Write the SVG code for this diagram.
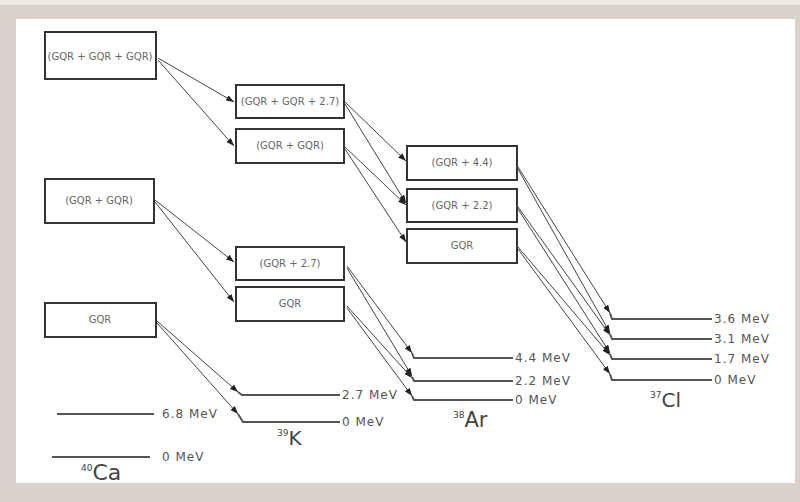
<svg xmlns="http://www.w3.org/2000/svg" width="800" height="502" viewBox="0 0 800 502">
<defs>
<marker id="ah" markerUnits="userSpaceOnUse" markerWidth="9" markerHeight="7" refX="8" refY="3" orient="auto"><path d="M0,0 L8,3 L0,6 z" fill="#222"/></marker>
<style>
.box{fill:#fff;stroke:#333;stroke-width:2}
.bt{font-family:"DejaVu Sans",sans-serif;font-size:10px;fill:#666;text-anchor:middle}
.con line{stroke:#444;stroke-width:1;marker-end:url(#ah)}
.lvl{fill:none;stroke:#555;stroke-width:2}
.lt{font-family:"DejaVu Sans",sans-serif;font-size:12px;fill:#555;letter-spacing:1px}
.iso{font-family:"DejaVu Sans",sans-serif;font-size:20px;fill:#444}
.sup{font-size:9px}
</style>
</defs>
<rect x="0" y="0" width="800" height="502" fill="#d8d2cb"/>
<rect x="0" y="0" width="800" height="5" fill="#eeebe7"/>
<rect x="16" y="19" width="779" height="464" fill="#fff"/>

<g id="ca-gqr3"><rect class="box" x="45" y="32" width="111" height="47"/><text class="bt" x="100" y="60">(GQR + GQR + GQR)</text></g>
<g id="ca-gqr2"><rect class="box" x="45" y="179" width="109" height="44"/><text class="bt" x="99" y="204">(GQR + GQR)</text></g>
<g id="ca-gqr"><rect class="box" x="45" y="303" width="111" height="34"/><text class="bt" x="100" y="323">GQR</text></g>

<g id="k-gqr2-27"><rect class="box" x="236" y="85" width="108" height="33"/><text class="bt" x="290" y="105">(GQR + GQR + 2.7)</text></g>
<g id="k-gqr2"><rect class="box" x="236" y="129" width="108" height="34"/><text class="bt" x="290" y="149">(GQR + GQR)</text></g>
<g id="k-gqr-27"><rect class="box" x="236" y="247" width="108" height="33"/><text class="bt" x="290" y="267">(GQR + 2.7)</text></g>
<g id="k-gqr"><rect class="box" x="236" y="287" width="108" height="34"/><text class="bt" x="290" y="307">GQR</text></g>

<g id="ar-gqr-44"><rect class="box" x="407" y="146" width="110" height="34"/><text class="bt" x="462" y="166">(GQR + 4.4)</text></g>
<g id="ar-gqr-22"><rect class="box" x="407" y="189" width="110" height="33"/><text class="bt" x="462" y="209">(GQR + 2.2)</text></g>
<g id="ar-gqr"><rect class="box" x="407" y="229" width="110" height="34"/><text class="bt" x="462" y="249">GQR</text></g>

<g id="connectors" class="con">
<line x1="158" y1="58" x2="234" y2="102"/>
<line x1="158" y1="60" x2="234" y2="146"/>
<line x1="155" y1="200" x2="234" y2="262"/>
<line x1="155" y1="202" x2="234" y2="302"/>
<line x1="157" y1="321" x2="238" y2="392"/>
<line x1="157" y1="323" x2="238" y2="414"/>
<line x1="345" y1="102" x2="406" y2="161"/>
<line x1="345" y1="104" x2="406" y2="203"/>
<line x1="345" y1="147" x2="406" y2="205"/>
<line x1="345" y1="149" x2="406" y2="242"/>
<line x1="347" y1="266" x2="412" y2="353"/>
<line x1="347" y1="268" x2="412" y2="376"/>
<line x1="347" y1="306" x2="412" y2="378"/>
<line x1="347" y1="308" x2="412" y2="396"/>
<line x1="518" y1="167" x2="610" y2="313"/>
<line x1="518" y1="169" x2="610" y2="333"/>
<line x1="518" y1="207" x2="610" y2="335"/>
<line x1="518" y1="209" x2="610" y2="353"/>
<line x1="518" y1="247" x2="610" y2="355"/>
<line x1="518" y1="249" x2="610" y2="374"/>
</g>

<g id="ca-levels">
<line class="lvl" x1="57" y1="414" x2="154" y2="414"/><text class="lt" x="162" y="418">6.8 MeV</text>
<line class="lvl" x1="52" y1="457" x2="150" y2="457"/><text class="lt" x="162" y="461">0 MeV</text>
<text class="iso" x="81" y="480"><tspan class="sup" dy="-9">40</tspan><tspan dy="9" font-size="22">Ca</tspan></text>
</g>
<g id="k-levels">
<polyline class="lvl" points="238,392 242,395 340,395"/><text class="lt" x="342" y="399">2.7 MeV</text>
<polyline class="lvl" points="238,414 243,422 340,422"/><text class="lt" x="342" y="426">0 MeV</text>
<text class="iso" x="277" y="445"><tspan class="sup" dy="-9">39</tspan><tspan dy="9">K</tspan></text>
</g>
<g id="ar-levels">
<polyline class="lvl" points="412,353 414,358 513,358"/><text class="lt" x="515" y="362">4.4 MeV</text>
<polyline class="lvl" points="412,377 414,381 513,381"/><text class="lt" x="515" y="385">2.2 MeV</text>
<polyline class="lvl" points="412,396 414,400 513,400"/><text class="lt" x="515" y="404">0 MeV</text>
<text class="iso" x="453" y="427"><tspan class="sup" dy="-9">38</tspan><tspan dy="9" font-size="21">Ar</tspan></text>
</g>
<g id="cl-levels">
<polyline class="lvl" points="610,313 612,319 712,319"/><text class="lt" x="714" y="323">3.6 MeV</text>
<polyline class="lvl" points="610,334 612,339 712,339"/><text class="lt" x="714" y="343">3.1 MeV</text>
<polyline class="lvl" points="610,354 612,359 712,359"/><text class="lt" x="714" y="363">1.7 MeV</text>
<polyline class="lvl" points="610,374 612,380 712,380"/><text class="lt" x="714" y="384">0 MeV</text>
<text class="iso" x="650" y="407"><tspan class="sup" dy="-9">37</tspan><tspan dy="9">Cl</tspan></text>
</g>
</svg>
